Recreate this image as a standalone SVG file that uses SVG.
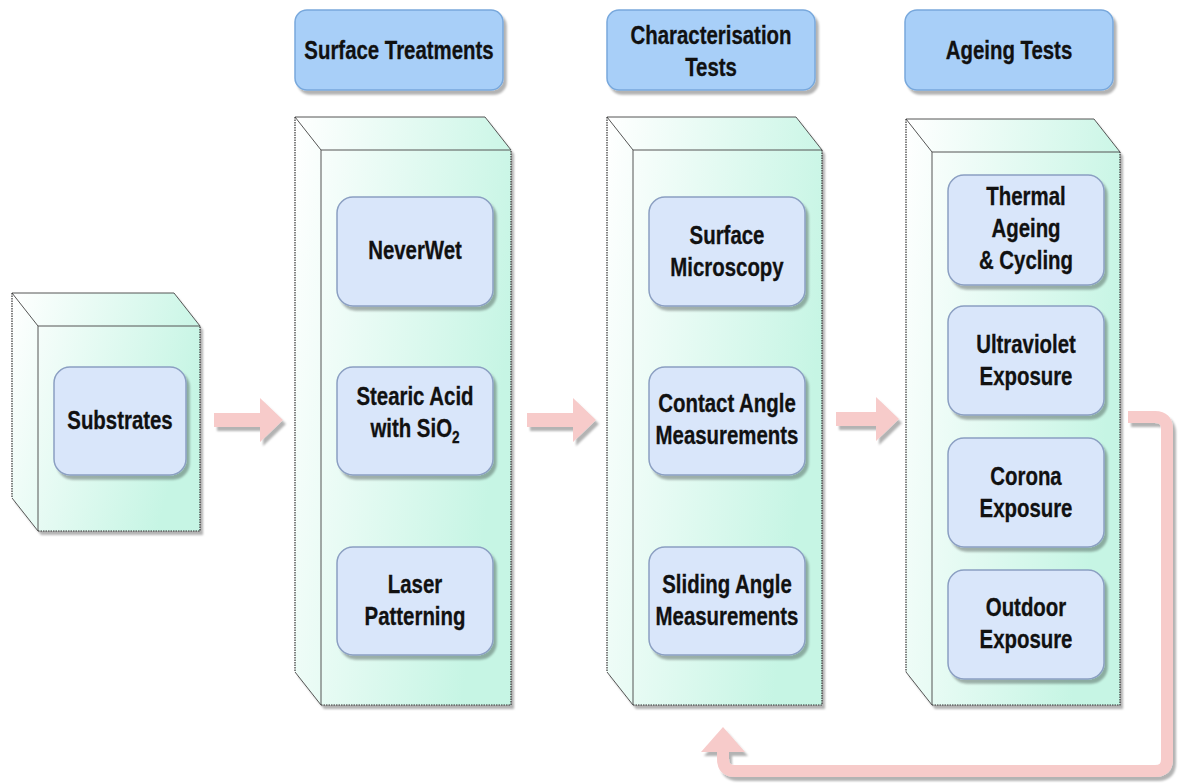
<svg xmlns="http://www.w3.org/2000/svg" width="1180" height="783" viewBox="0 0 1180 783">
<defs>
<linearGradient id="cubeGrad" x1="0" y1="0" x2="1" y2="0.35">
<stop offset="0" stop-color="#ffffff"/>
<stop offset="1" stop-color="#c6f5e4"/>
</linearGradient>
<filter id="sh" x="-20%" y="-20%" width="140%" height="140%">
<feGaussianBlur in="SourceAlpha" stdDeviation="1.2" result="b"/>
<feOffset dx="3" dy="4" result="o"/>
<feFlood flood-color="#000" flood-opacity="0.3"/>
<feComposite in2="o" operator="in" result="s"/>
<feMerge><feMergeNode in="s"/><feMergeNode in="SourceGraphic"/></feMerge>
</filter>
<style>
.t{font-family:"Liberation Sans",Arial,sans-serif;font-weight:bold;font-size:25.5px;fill:#111;text-anchor:middle;stroke:#111;stroke-width:0.3}
.hdr{fill:#a8cff8;stroke:#78a8dc;stroke-width:1.5}
.box{fill:#d9e6fa;stroke:#8b9fc2;stroke-width:1.5}
.cube{fill:url(#cubeGrad);stroke:none}
.solid{fill:none;stroke:#555;stroke-width:1}
.dot{fill:none;stroke:#333;stroke-width:1.2;stroke-dasharray:1.5 1}
.arr{fill:#f7cbca;stroke:none}
.fb{fill:none;stroke:#f7cbca;stroke-width:12}
</style>
</defs>

<g id="cube-substrates">
<path class="cube" filter="url(#sh)" d="M12,293 L174,293 L200,326 L200,531 L38,531 L12,498 Z"/>
<path class="solid" d="M12,293 L174,293 L200,326 M12,293 L38,326 L200,326 M38,326 L38,531 L12,498"/>
<path class="dot" d="M12,293 L12,498 M38,531 L200,531 L200,326"/>
</g>
<g id="cube-surface">
<path class="cube" filter="url(#sh)" d="M295,117 L485,117 L511,150 L511,705 L321,705 L295,672 Z"/>
<path class="solid" d="M295,117 L485,117 L511,150 M295,117 L321,150 L511,150 M321,150 L321,705 L295,672"/>
<path class="dot" d="M295,117 L295,672 M321,705 L511,705 L511,150"/>
</g>
<g id="cube-characterisation">
<path class="cube" filter="url(#sh)" d="M607,117 L796,117 L822,150 L822,705 L633,705 L607,672 Z"/>
<path class="solid" d="M607,117 L796,117 L822,150 M607,117 L633,150 L822,150 M633,150 L633,705 L607,672"/>
<path class="dot" d="M607,117 L607,672 M633,705 L822,705 L822,150"/>
</g>
<g id="cube-ageing">
<path class="cube" filter="url(#sh)" d="M906,119 L1094,119 L1120,152 L1120,705 L932,705 L906,672 Z"/>
<path class="solid" d="M906,119 L1094,119 L1120,152 M906,119 L932,152 L1120,152 M932,152 L932,705 L906,672"/>
<path class="dot" d="M906,119 L906,672 M932,705 L1120,705 L1120,152"/>
</g>

<g id="header-surface">
<rect class="hdr" filter="url(#sh)" x="295" y="10" width="208" height="80" rx="12"/>
<text class="t" transform="translate(399,59) scale(0.8,1)">Surface Treatments</text>
</g>
<g id="header-characterisation">
<rect class="hdr" filter="url(#sh)" x="607" y="10" width="208" height="80" rx="12"/>
<text class="t" transform="translate(711,44) scale(0.8,1)">Characterisation</text>
<text class="t" transform="translate(711,76) scale(0.8,1)">Tests</text>
</g>
<g id="header-ageing">
<rect class="hdr" filter="url(#sh)" x="905" y="10" width="208" height="80" rx="12"/>
<text class="t" transform="translate(1009,59) scale(0.8,1)">Ageing Tests</text>
</g>

<g id="substrates">
<rect class="box" filter="url(#sh)" x="54" y="367" width="132" height="108" rx="16"/>
<text class="t" transform="translate(120,429) scale(0.8,1)">Substrates</text>
</g>
<g id="neverwet">
<rect class="box" filter="url(#sh)" x="337" y="197" width="156" height="109" rx="16"/>
<text class="t" transform="translate(415,259) scale(0.8,1)">NeverWet</text>
</g>
<g id="stearic">
<rect class="box" filter="url(#sh)" x="337" y="367" width="156" height="108" rx="16"/>
<text class="t" transform="translate(415,405) scale(0.8,1)">Stearic Acid</text>
<text class="t" transform="translate(415,437) scale(0.8,1)">with SiO<tspan font-size="17" dy="6">2</tspan></text>
</g>
<g id="laser">
<rect class="box" filter="url(#sh)" x="337" y="547" width="156" height="108" rx="16"/>
<text class="t" transform="translate(415,593) scale(0.8,1)">Laser</text>
<text class="t" transform="translate(415,625) scale(0.8,1)">Patterning</text>
</g>
<g id="microscopy">
<rect class="box" filter="url(#sh)" x="649" y="197" width="156" height="109" rx="16"/>
<text class="t" transform="translate(727,244) scale(0.8,1)">Surface</text>
<text class="t" transform="translate(727,276) scale(0.8,1)">Microscopy</text>
</g>
<g id="contact">
<rect class="box" filter="url(#sh)" x="649" y="367" width="156" height="108" rx="16"/>
<text class="t" transform="translate(727,412) scale(0.8,1)">Contact Angle</text>
<text class="t" transform="translate(727,444) scale(0.8,1)">Measurements</text>
</g>
<g id="sliding">
<rect class="box" filter="url(#sh)" x="649" y="547" width="156" height="108" rx="16"/>
<text class="t" transform="translate(727,593) scale(0.8,1)">Sliding Angle</text>
<text class="t" transform="translate(727,625) scale(0.8,1)">Measurements</text>
</g>
<g id="thermal">
<rect class="box" filter="url(#sh)" x="948" y="175" width="156" height="110" rx="16"/>
<text class="t" transform="translate(1026,205) scale(0.8,1)">Thermal</text>
<text class="t" transform="translate(1026,237) scale(0.8,1)">Ageing</text>
<text class="t" transform="translate(1026,269) scale(0.8,1)">&amp; Cycling</text>
</g>
<g id="ultraviolet">
<rect class="box" filter="url(#sh)" x="948" y="306" width="156" height="109" rx="16"/>
<text class="t" transform="translate(1026,353) scale(0.8,1)">Ultraviolet</text>
<text class="t" transform="translate(1026,385) scale(0.8,1)">Exposure</text>
</g>
<g id="corona">
<rect class="box" filter="url(#sh)" x="948" y="438" width="156" height="109" rx="16"/>
<text class="t" transform="translate(1026,485) scale(0.8,1)">Corona</text>
<text class="t" transform="translate(1026,517) scale(0.8,1)">Exposure</text>
</g>
<g id="outdoor">
<rect class="box" filter="url(#sh)" x="948" y="570" width="156" height="109" rx="16"/>
<text class="t" transform="translate(1026,616) scale(0.8,1)">Outdoor</text>
<text class="t" transform="translate(1026,648) scale(0.8,1)">Exposure</text>
</g>

<g id="connectors">
<polygon class="arr" filter="url(#sh)" points="214,413 260,413 260,398 283,420 260,442 260,427 214,427"/>
<polygon class="arr" filter="url(#sh)" points="527,413 573,413 573,398 596,420 573,442 573,427 527,427"/>
<polygon class="arr" filter="url(#sh)" points="836,412 876,412 876,397 899,419 876,441 876,426 836,426"/>
<g filter="url(#sh)">
<path class="fb" d="M1128,417 L1155,417 Q1167,417 1167,429 L1167,759 Q1167,771 1155,771 L735,771 Q723,771 723,759 L723,750"/>
<polygon class="arr" points="701,752 723,727 745,752"/>
</g>
</g>
</svg>
